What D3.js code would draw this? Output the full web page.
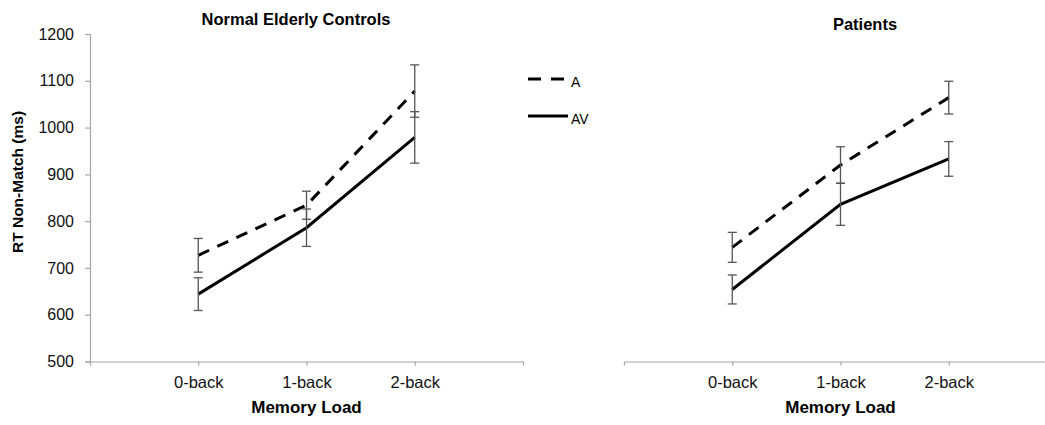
<!DOCTYPE html>
<html>
<head>
<meta charset="utf-8">
<script src="https://cdn.jsdelivr.net/npm/d3@7"></script>
<style>
  html, body { margin: 0; padding: 0; background: #fff; }
  svg { display: block; font-family: "Liberation Sans", Arial, sans-serif; }
</style>
</head>
<body>
<svg id="chart" width="1045" height="425"></svg>
<script>
// Memory load conditions on the x axis
const categories = ["0-back", "1-back", "2-back"];

// Mean RT (ms) and error bar half-widths, normal elderly controls
const controlsA      = [727, 834, 1078];
const controlsAErr   = [36, 30, 56];
const controlsAV     = [644, 786, 979];
const controlsAVErr  = [35, 40, 55];

// Mean RT (ms) and error bar half-widths, patients
const patientsA      = [744, 920, 1064];
const patientsAErr   = [32, 39, 35];
const patientsAV     = [654, 836, 933];
const patientsAVErr  = [31, 45, 37];

const yTicks = [500, 600, 700, 800, 900, 1000, 1100, 1200];
const seriesNames = ["A", "AV"];

const svg = d3.select("#chart");
const axisColor = "#a6a6a6";
const errColor = "#555";
const dash = "12,9";

const y = d3.scaleLinear().domain([500, 1200]).range([361.5, 34]);

function panel(opts) {
  const x = d3.scalePoint().domain(categories).range(opts.xRange).padding(1);
  const g = svg.append("g");

  // x axis
  const xAxis = g.append("g")
    .attr("transform", `translate(0,${y(500)})`)
    .call(d3.axisBottom(x).tickSize(4).tickSizeOuter(4).tickPadding(11));
  xAxis.selectAll("path, line").attr("stroke", axisColor).attr("stroke-width", 1.2);
  xAxis.selectAll("text")
    .attr("font-size", "16.5px")
    .attr("fill", "#111")
    .style("font-family", "Liberation Sans, Arial, sans-serif");

  // y axis (controls panel only)
  if (opts.showY) {
    const yAxis = g.append("g")
      .attr("transform", `translate(${opts.xRange[0]},0)`)
      .call(d3.axisLeft(y).tickValues(yTicks).tickFormat(d3.format("d"))
        .tickSize(5).tickSizeOuter(5).tickPadding(11));
    yAxis.selectAll("path, line").attr("stroke", axisColor).attr("stroke-width", 1.2);
    yAxis.selectAll("text")
      .attr("font-size", "16px")
      .attr("fill", "#111")
      .style("font-family", "Liberation Sans, Arial, sans-serif");
  }

  const line = d3.line().x((d, i) => x(categories[i])).y(d => y(d));

  const series = [
    { vals: opts.a, err: opts.aErr, dashed: true },
    { vals: opts.av, err: opts.avErr, dashed: false }
  ];

  series.forEach(s => {
    g.append("path")
      .datum(s.vals)
      .attr("d", line)
      .attr("fill", "none")
      .attr("stroke", "#000")
      .attr("stroke-width", 3)
      .attr("stroke-dasharray", s.dashed ? dash : null);
  });

  // error bars
  series.forEach(s => {
    const eg = g.append("g").attr("stroke", errColor).attr("stroke-width", 1.3);
    s.vals.forEach((v, i) => {
      const cx = x(categories[i]);
      const top = y(v + s.err[i]), bot = y(v - s.err[i]);
      eg.append("line").attr("x1", cx).attr("x2", cx).attr("y1", top).attr("y2", bot);
      eg.append("line").attr("x1", cx - 4.5).attr("x2", cx + 4.5).attr("y1", top).attr("y2", top);
      eg.append("line").attr("x1", cx - 4.5).attr("x2", cx + 4.5).attr("y1", bot).attr("y2", bot);
    });
  });

  // titles
  g.append("text")
    .attr("x", opts.titleX).attr("y", opts.titleY)
    .attr("text-anchor", "middle")
    .attr("font-size", "16.5px").attr("font-weight", "bold")
    .text(opts.title);

  g.append("text")
    .attr("x", x("1-back")).attr("y", 412.5)
    .attr("text-anchor", "middle")
    .attr("font-size", "17px").attr("font-weight", "bold")
    .text("Memory Load");
}

panel({
  xRange: [90, 523], showY: true,
  a: controlsA, aErr: controlsAErr, av: controlsAV, avErr: controlsAVErr,
  title: "Normal Elderly Controls", titleX: 296, titleY: 25
});

panel({
  xRange: [624, 1057], showY: false,
  a: patientsA, aErr: patientsAErr, av: patientsAV, avErr: patientsAVErr,
  title: "Patients", titleX: 865, titleY: 30
});

// y axis title
svg.append("text")
  .attr("transform", "translate(23,182) rotate(-90)")
  .attr("text-anchor", "middle")
  .attr("font-size", "15.5px").attr("font-weight", "bold")
  .text("RT Non-Match (ms)");

// legend
const legend = svg.append("g");
const legendRows = [
  { name: seriesNames[0], y: 79, dashed: true },
  { name: seriesNames[1], y: 116, dashed: false }
];
legendRows.forEach(r => {
  legend.append("line")
    .attr("x1", 528).attr("x2", r.dashed ? 564.5 : 568)
    .attr("y1", r.y).attr("y2", r.y)
    .attr("stroke", "#000").attr("stroke-width", 3)
    .attr("stroke-dasharray", r.dashed ? "13,10" : null);
  legend.append("text")
    .attr("x", 571).attr("y", r.y + 7.5)
    .attr("font-size", "14px")
    .text(r.name);
});
</script>
</body>
</html>
